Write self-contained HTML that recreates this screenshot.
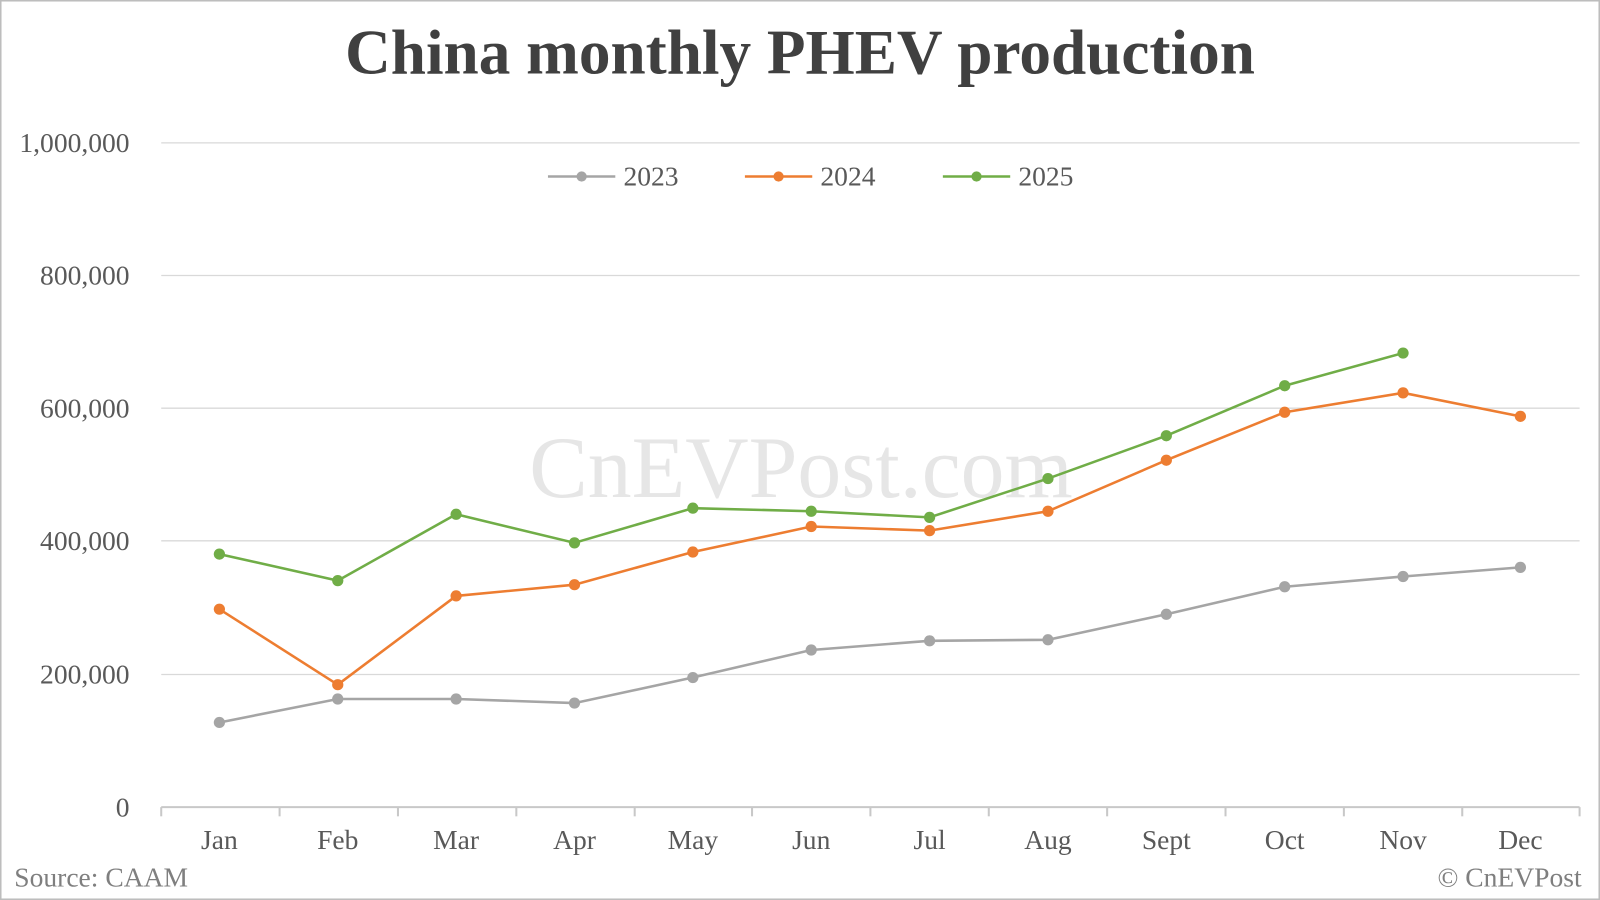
<!DOCTYPE html>
<html><head><style>html,body{margin:0;padding:0;background:#fff}svg{display:block}</style></head>
<body>
<svg width="1600" height="900" viewBox="0 0 1568 882" xmlns="http://www.w3.org/2000/svg" font-family="Liberation Serif, serif">
<rect x="0.5" y="0.5" width="1567" height="881" fill="#fff" stroke="#bdbdbd" stroke-width="2"/>
<text x="784" y="72" text-anchor="middle" font-size="62" font-weight="bold" fill="#404040">China monthly PHEV production</text>
<text x="785" y="487" text-anchor="middle" font-size="86" fill="#e6e6e6">CnEVPost.com</text>
<g stroke="#d9d9d9" stroke-width="1.3">
<line x1="158" y1="140" x2="1548" y2="140"/><line x1="158" y1="270" x2="1548" y2="270"/>
<line x1="158" y1="400" x2="1548" y2="400"/><line x1="158" y1="530" x2="1548" y2="530"/>
<line x1="158" y1="661" x2="1548" y2="661"/>
</g>
<g stroke="#c8c8c8" stroke-width="2"><line x1="158" y1="791" x2="1548" y2="791"/>
<line x1="158" y1="791" x2="158" y2="800"/><line x1="274" y1="791" x2="274" y2="800"/><line x1="390" y1="791" x2="390" y2="800"/><line x1="506" y1="791" x2="506" y2="800"/><line x1="622" y1="791" x2="622" y2="800"/><line x1="737" y1="791" x2="737" y2="800"/><line x1="853" y1="791" x2="853" y2="800"/><line x1="969" y1="791" x2="969" y2="800"/><line x1="1085" y1="791" x2="1085" y2="800"/><line x1="1201" y1="791" x2="1201" y2="800"/><line x1="1317" y1="791" x2="1317" y2="800"/><line x1="1433" y1="791" x2="1433" y2="800"/><line x1="1548" y1="791" x2="1548" y2="800"/></g>
<g font-size="27" fill="#595959" text-anchor="end">
<text x="127" y="149">1,000,000</text><text x="127" y="279">800,000</text><text x="127" y="409">600,000</text><text x="127" y="539">400,000</text><text x="127" y="670">200,000</text><text x="127" y="800">0</text></g>
<g font-size="27" fill="#595959" text-anchor="middle">
<text x="215" y="832">Jan</text><text x="331" y="832">Feb</text><text x="447" y="832">Mar</text><text x="563" y="832">Apr</text><text x="679" y="832">May</text><text x="795" y="832">Jun</text><text x="911" y="832">Jul</text><text x="1027" y="832">Aug</text><text x="1143" y="832">Sept</text><text x="1259" y="832">Oct</text><text x="1375" y="832">Nov</text><text x="1490" y="832">Dec</text></g>
<text x="14" y="869" font-size="27" fill="#7f7f7f">Source: CAAM</text>
<text x="1550" y="869" font-size="27" fill="#7f7f7f" text-anchor="end">© CnEVPost</text>
<g font-size="27" fill="#595959">
<line x1="537" y1="173" x2="603" y2="173" stroke="#a5a5a5" stroke-width="2.5"/><circle cx="570" cy="173" r="5" fill="#a5a5a5"/><text x="611" y="182">2023</text>
<line x1="730" y1="173" x2="796" y2="173" stroke="#ed7d31" stroke-width="2.5"/><circle cx="763" cy="173" r="5" fill="#ed7d31"/><text x="804" y="182">2024</text>
<line x1="924" y1="173" x2="990" y2="173" stroke="#70ad47" stroke-width="2.5"/><circle cx="957" cy="173" r="5" fill="#70ad47"/><text x="998" y="182">2025</text>
</g>
<g fill="none" stroke-width="2.5">
<polyline stroke="#a5a5a5" points="215,708 331,685 447,685 563,689 679,664 795,637 911,628 1027,627 1143,602 1259,575 1375,565 1490,556"/>
<polyline stroke="#ed7d31" points="215,597 331,671 447,584 563,573 679,541 795,516 911,520 1027,501 1143,451 1259,404 1375,385 1490,408"/>
<polyline stroke="#70ad47" points="215,543 331,569 447,504 563,532 679,498 795,501 911,507 1027,469 1143,427 1259,378 1375,346"/>
</g>
<g fill="#a5a5a5"><circle cx="215" cy="708" r="5.5"/><circle cx="331" cy="685" r="5.5"/><circle cx="447" cy="685" r="5.5"/><circle cx="563" cy="689" r="5.5"/><circle cx="679" cy="664" r="5.5"/><circle cx="795" cy="637" r="5.5"/><circle cx="911" cy="628" r="5.5"/><circle cx="1027" cy="627" r="5.5"/><circle cx="1143" cy="602" r="5.5"/><circle cx="1259" cy="575" r="5.5"/><circle cx="1375" cy="565" r="5.5"/><circle cx="1490" cy="556" r="5.5"/></g>
<g fill="#ed7d31"><circle cx="215" cy="597" r="5.5"/><circle cx="331" cy="671" r="5.5"/><circle cx="447" cy="584" r="5.5"/><circle cx="563" cy="573" r="5.5"/><circle cx="679" cy="541" r="5.5"/><circle cx="795" cy="516" r="5.5"/><circle cx="911" cy="520" r="5.5"/><circle cx="1027" cy="501" r="5.5"/><circle cx="1143" cy="451" r="5.5"/><circle cx="1259" cy="404" r="5.5"/><circle cx="1375" cy="385" r="5.5"/><circle cx="1490" cy="408" r="5.5"/></g>
<g fill="#70ad47"><circle cx="215" cy="543" r="5.5"/><circle cx="331" cy="569" r="5.5"/><circle cx="447" cy="504" r="5.5"/><circle cx="563" cy="532" r="5.5"/><circle cx="679" cy="498" r="5.5"/><circle cx="795" cy="501" r="5.5"/><circle cx="911" cy="507" r="5.5"/><circle cx="1027" cy="469" r="5.5"/><circle cx="1143" cy="427" r="5.5"/><circle cx="1259" cy="378" r="5.5"/><circle cx="1375" cy="346" r="5.5"/></g>
</svg>
</body></html>
